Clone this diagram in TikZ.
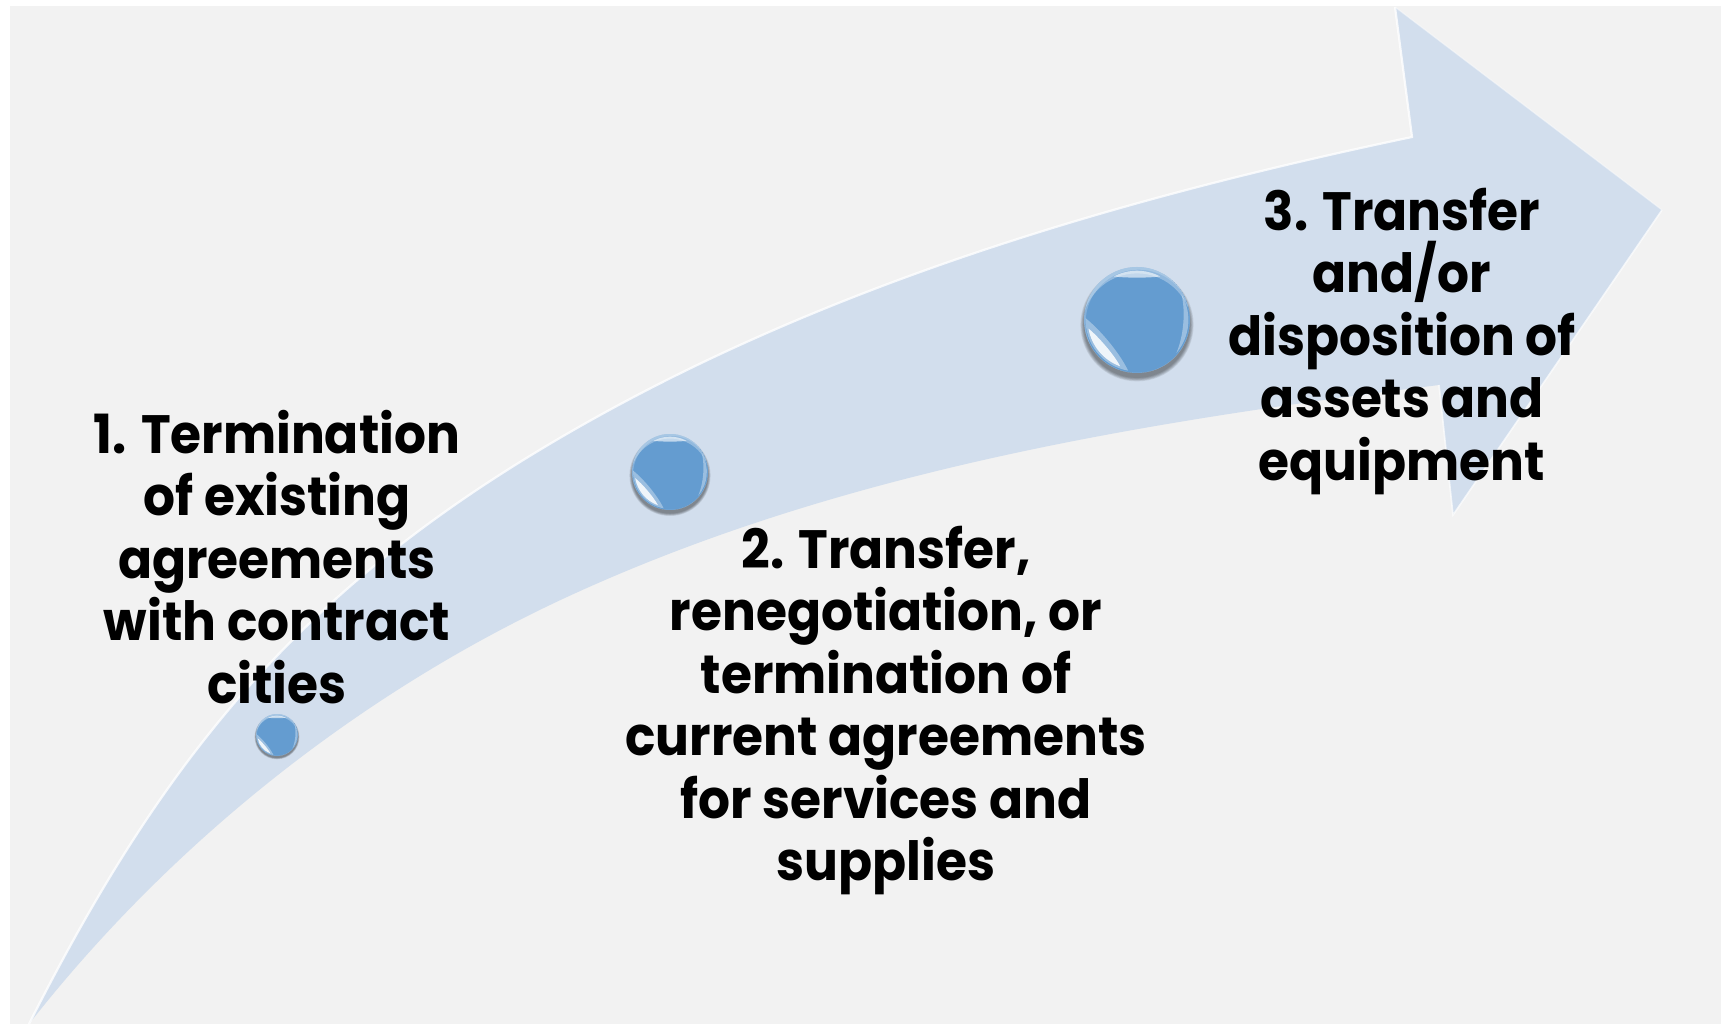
\documentclass[tikz,border=0pt]{standalone}
\usepackage{fontspec}
\setmainfont{Poppins}[FakeStretch=0.93]
\definecolor{bgcol}{HTML}{F2F2F2}
\definecolor{arrowfill}{HTML}{D2DEED}
\definecolor{ballblue}{HTML}{649CD0}
\tikzset{
  lbl/.style={anchor=base, align=center, inner sep=0pt, text=black,
    font=\bfseries\fontsize{54}{62.5}\selectfont},
  glossball/.pic={
    \foreach \k in {1,...,6} {\fill[black, opacity=0.08] (0,0.09) circle ({0.99+0.013*\k});}
    \fill[ballblue] (0,0) circle (1);
    \begin{scope}
      \clip (0,0) circle (1);
      \fill[white, opacity=0.3, even odd rule] (0,0) circle (1) (0,0.16) circle (1.04);
      \fill[white, opacity=0.2, even odd rule] (0,0) circle (1) (0.03,0.05) circle (1.0);
    \end{scope}
    \fill[white, opacity=0.35] (100:0.97) arc[start angle=100, end angle=182, radius=0.97]
      .. controls (165:0.72) and (118:0.7) .. (100:0.97) -- cycle;
    \fill[white, opacity=0.85] (110:0.93) arc[start angle=110, end angle=170, radius=0.93]
      .. controls (158:0.8) and (122:0.79) .. (110:0.93) -- cycle;
    \fill[white, opacity=0.35] (-30:0.97) arc[start angle=-30, end angle=40, radius=0.97]
      .. controls (18:0.93) and (-10:0.93) .. (-30:0.97) -- cycle;
    \fill[white, opacity=0.6] (-118:0.93) arc[start angle=-118, end angle=-62, radius=0.93]
      .. controls (-75:0.82) and (-105:0.82) .. (-118:0.93) -- cycle;
    \coordinate (-c) at (0,0);
  }
}
\begin{document}
\begin{tikzpicture}[x=1pt,y=-1pt]
\useasboundingbox (0,0) rectangle (1725,1024);
\fill[white] (0,0) rectangle (1725,1024);
\fill[bgcol] (10,6) rectangle (1721,1024);
% curved arrow
\coordinate (tail) at (29,1024);
\coordinate (midU) at (520,462);
\coordinate (notchU) at (1412,137);
\coordinate (barbT) at (1395,7);
\coordinate (tip) at (1662,210);
\coordinate (barbB) at (1453,515);
\coordinate (notchL) at (1439,385);
\coordinate (midL) at (567,597);
\fill[arrowfill] (tail) .. controls (155,775) and (282,610) .. (midU)
  .. controls (789,295) and (1102,202) .. (notchU)
  -- (barbT) -- (tip) -- (barbB) -- (notchL)
  .. controls (1142,422) and (840,471) .. (midL)
  .. controls (359,693) and (170,844) .. (tail) -- cycle;
\draw[white, opacity=0.8, line width=2.2pt] (tail) .. controls (155,775) and (282,610) .. (midU)
  .. controls (789,295) and (1102,202) .. (notchU) -- (barbT);
\draw[white, opacity=0.7, line width=1.6pt] (tip) -- (barbB) -- (notchL);
\draw[white, opacity=0.45, line width=1.2pt] (barbT) -- (tip);
% balls
\pic[scale=21] (b1) at (277,735) {glossball};
\pic[scale=38] (b2) at (670,472) {glossball};
\pic[scale=53] (b3) at (1137,320) {glossball};
% labels
\node[lbl] (t1) at (277,703) {1. Termination\\of existing\\agreements\\with contract\\cities};
\node[lbl] (t2) at (886,880.5) {2. Transfer,\\renegotiation, or\\termination of\\current agreements\\for services and\\supplies};
\node[lbl] (t3) at (1402,480) {3. Transfer\\and/or\\disposition of\\assets and\\equipment};
\end{tikzpicture}
\end{document}
